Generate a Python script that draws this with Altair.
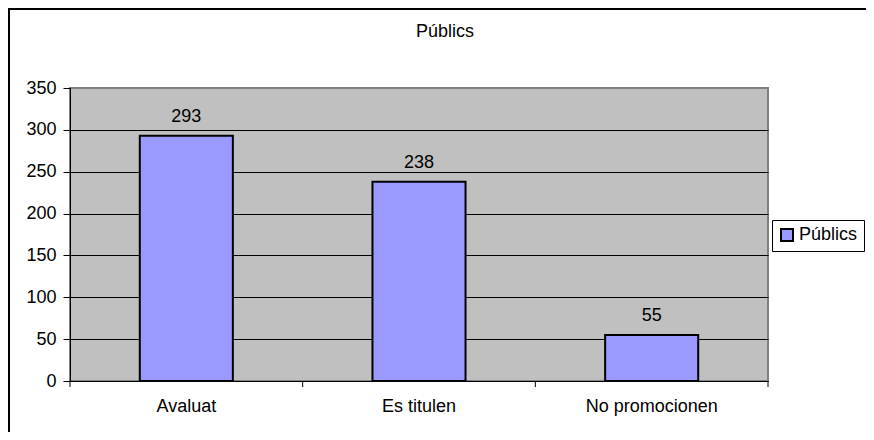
import altair as alt
import pandas as pd

categories = ["Avaluat", "Es titulen", "No promocionen"]
values = [293, 238, 55]
series_name = "Públics"
chart_title = "Públics"
y_ticks = [0, 50, 100, 150, 200, 250, 300, 350]
boundaries = [0, 1, 2, 3]

FONT = "Liberation Sans"
FS = 18

df = pd.DataFrame({"cat": categories, "val": values, "series": [series_name] * len(categories)})

x_enc = alt.X("cat:N", sort=categories,
              scale=alt.Scale(paddingInner=0.6, paddingOuter=0.3),
              axis=alt.Axis(title=None, labelAngle=0, ticks=False, tickSize=0,
                            labelPadding=16, labelFontSize=FS, labelColor="black",
                            domainColor="black", domainWidth=1, grid=False))
y_enc = alt.Y("val:Q",
              scale=alt.Scale(domain=[0, 350], nice=False),
              axis=alt.Axis(title=None, values=y_ticks, tickSize=7, tickColor="black",
                            labelPadding=7, labelFontSize=FS, labelColor="black",
                            domainColor="black", domainWidth=1,
                            grid=True, gridWidth=1,
                            gridColor={"condition": {"test": "datum.value >= 350", "value": "#808080"},
                                       "value": "black"}))

bars = alt.Chart(df).mark_bar(stroke="black", strokeWidth=2).encode(
    x=x_enc,
    y=y_enc,
    color=alt.Color("series:N", scale=alt.Scale(range=["#9999FF"]),
                    legend=alt.Legend(title=None, orient="none", legendX=702, legendY=132,
                                      strokeColor="black", fillColor="white", padding=6,
                                      symbolType="square", symbolSize=144,
                                      symbolStrokeColor="black", symbolStrokeWidth=2,
                                      labelFontSize=FS, labelColor="black", labelOffset=3,
                                      labelFont=FONT)),
)

labels = alt.Chart(df).mark_text(fontSize=FS, color="black", baseline="alphabetic", dy=-14).encode(
    x=alt.X("cat:N", sort=categories),
    y=alt.Y("val:Q"),
    text="val:Q",
)

main = alt.layer(bars, labels)

tick_df = pd.DataFrame({"b": boundaries})
xticks = alt.Chart(tick_df).mark_rule(color="black", strokeWidth=1).encode(
    x=alt.X("b:Q", scale=alt.Scale(domain=[0, 3], nice=False), axis=None),
    y=alt.value(293),
    y2=alt.value(299),
)

title_df = pd.DataFrame({"t": [chart_title]})
title = alt.Chart(title_df).mark_text(fontSize=FS, color="black", baseline="alphabetic", align="center").encode(
    text="t:N",
    x=alt.value(375),
    y=alt.value(-51),
)

left_border = alt.Chart(title_df).mark_rule(color="black", strokeWidth=2).encode(
    x=alt.value(-61), x2=alt.value(-61), y=alt.value(-79), y2=alt.value(345))
top_border = alt.Chart(title_df).mark_rule(color="black", strokeWidth=2).encode(
    x=alt.value(-62), x2=alt.value(800), y=alt.value(-79), y2=alt.value(-79))

chart = alt.layer(main, xticks, title, left_border, top_border).resolve_scale(
    x="independent"
).properties(
    width=698, height=293,
    autosize=alt.AutoSizeParams(type="none"),
    padding={"left": 62, "top": 80, "right": 98, "bottom": 51},
    background="white",
).configure(font=FONT).configure_view(
    fill="#C0C0C0", stroke="#808080", strokeWidth=2
)

chart.save("out.html", embed_options={"renderer": "svg", "actions": False})
